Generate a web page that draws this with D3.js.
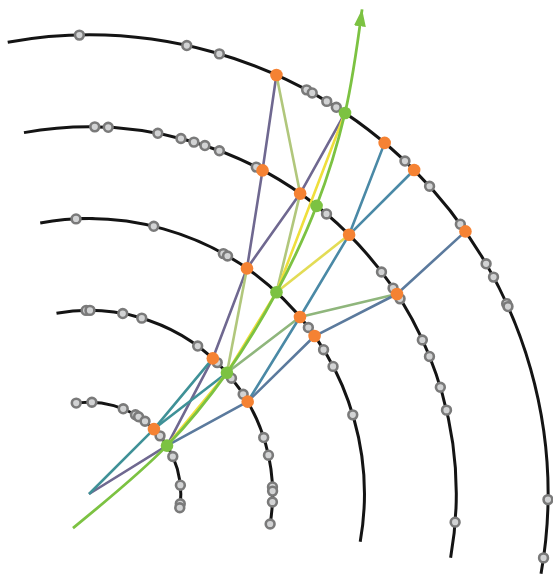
<!DOCTYPE html>
<html><head><meta charset="utf-8">
<script src="https://cdn.jsdelivr.net/npm/d3@7"></script>
<style>html,body{margin:0;padding:0;background:#fff;} svg{display:block;}</style>
</head><body>
<svg id="chart" width="553" height="574"></svg>
<script>
// ---- data (layer index, angle in degrees clockwise from vertical) ----
const layers = [1, 2, 3, 4, 5];
const layerSpan = [-10.2, 100];
const greyHits = [
  [1,-8.0],[1,1.8],[1,21.9],[1,30.4],[1,32.7],[1,37.6],[1,50.7],[1,65.9],[1,84.5],[1,96.1],[1,98.6],
  [2,-0.9],[2,0.3],[2,10.6],[2,16.7],[2,36.3],[2,44.3],[2,50.9],[2,57.1],[2,72.1],[2,77.8],[2,87.8],[2,89.1],[2,92.5],[2,99.4],
  [3,-2.7],[3,13.6],[3,29.2],[3,30.2],[3,52.8],[3,58.4],[3,62.4],[3,73.3],
  [4,0.9],[4,3.0],[4,10.8],[4,14.5],[4,16.6],[4,18.4],[4,20.8],[4,27.1],[4,40.3],[4,52.8],[4,55.9],[4,57.9],[4,65.2],[4,68.0],[4,73.1],[4,76.8],[4,94.4],
  [5,-1.2],[5,12.3],[5,16.5],[5,28.3],[5,29.1],[5,31.2],[5,32.6],[5,43.5],[5,47.9],[5,54.0],[5,59.9],[5,61.8],[5,65.5],[5,65.9],[5,90.7],[5,98.0]
];
const orangeHits = [
  ["O1",1,45.0],
  ["O2a",2,42.4],["O2b",2,59.8],
  ["O3a",3,35.0],["O3b",3,50.0],["O3c",3,55.0],
  ["O4a",4,28.2],["O4b",4,35.1],["O4c",4,45.1],["O4d",4,57.0],
  ["O5a",5,24.1],["O5b",5,40.1],["O5c",5,45.1],["O5d",5,55.1]
];
const greenHits = [["G1",1,58.2],["G2",2,48.7],["G3",3,42.9],["G4",4,38.3],["G5",5,33.9]];
const extraPoints = [["IP",0,0],["S",0.41,205.2],["T",6.06,29.4]];
// candidate segments (by hit id)
const candidates = [
  ["IP","G1","O2a","O3a","O4a","O5a"],
  ["G5","O4b","O3a"],
  ["O5a","O4b","G3"],
  ["O3a","G2"],
  ["IP","O1","O2a"],
  ["O1","G2"],
  ["G2","O3b","O4d"],
  ["O2b","O3b","O4c","O5b"],
  ["O4c","O5c"],
  ["G1","O2b","O3c","O4d","O5d"],
  ["G1","G2","G3","G5"],
  ["G3","O4c"]
];
const trackPath = ["S","G1","G2","G3","G4","G5","T"];

// ---- styles ----
const candidateColors = ["#6f6890","#6f6890","#b1c77c","#b1c77c","#3f9197","#3f9197","#8fb67c","#4a89a6","#4a89a6","#5b7a9d","#efdf3c","#e3dc55"];

// ---- layout ----
const cx = 89, cy = 494;
const svg = d3.select("#chart");
const r = d3.scaleLinear().domain([0, 5]).range([0, 459]);
const ang = d3.scaleLinear().domain([0, 360]).range([0, 2 * Math.PI]);
const pos = (layer, deg) => [cx + r(layer) * Math.sin(ang(deg)), cy - r(layer) * Math.cos(ang(deg))];

const pts = {};
orangeHits.forEach(([id,l,a]) => pts[id] = pos(l,a));
greenHits.forEach(([id,l,a]) => pts[id] = pos(l,a));
extraPoints.forEach(([id,l,a]) => pts[id] = pos(l,a));

const g = svg.append("g");

// detector layers
const arc = d3.arc().startAngle(ang(layerSpan[0])).endAngle(ang(layerSpan[1]));
g.selectAll("path.layer").data(layers).join("path")
  .attr("class","layer")
  .attr("transform", `translate(${cx},${cy})`)
  .attr("d", l => arc({innerRadius: r(l), outerRadius: r(l)}))
  .attr("fill","none").attr("stroke","#141414").attr("stroke-width",3);

// candidate lines
const line = d3.line();
g.selectAll("path.cand").data(candidates).join("path")
  .attr("class","cand")
  .attr("d", c => line(c.map(id => pts[id])))
  .attr("fill","none")
  .attr("stroke", (c,i) => candidateColors[i])
  .attr("stroke-width",2.6)
  .attr("stroke-linejoin","round");

// track with arrow
svg.append("defs").append("marker")
  .attr("id","arrow").attr("markerUnits","userSpaceOnUse")
  .attr("viewBox","0 -7 18 14").attr("markerWidth",18).attr("markerHeight",14)
  .attr("refX",17).attr("refY",0).attr("orient","auto")
  .append("path").attr("d","M0,-6L17,0L0,6Z").attr("fill","#7cc242");
g.append("path")
  .attr("d", d3.line().curve(d3.curveCatmullRom.alpha(0.5))(trackPath.map(id => pts[id])))
  .attr("fill","none").attr("stroke","#7cc242").attr("stroke-width",2.8)
  .attr("marker-end","url(#arrow)");

// hits
g.selectAll("circle.grey").data(greyHits).join("circle")
  .attr("class","grey")
  .attr("cx", d => pos(d[0], d[1])[0]).attr("cy", d => pos(d[0], d[1])[1])
  .attr("r",4.4).attr("fill","#d2d3d4").attr("stroke","#7a7a7a").attr("stroke-width",2.6);
g.selectAll("circle.orange").data(orangeHits).join("circle")
  .attr("class","orange")
  .attr("cx", d => pos(d[1], d[2])[0]).attr("cy", d => pos(d[1], d[2])[1])
  .attr("r",6.3).attr("fill","#f58233");
g.selectAll("circle.green").data(greenHits).join("circle")
  .attr("class","green")
  .attr("cx", d => pos(d[1], d[2])[0]).attr("cy", d => pos(d[1], d[2])[1])
  .attr("r",6.3).attr("fill","#7cc242");
</script>
</body></html>
